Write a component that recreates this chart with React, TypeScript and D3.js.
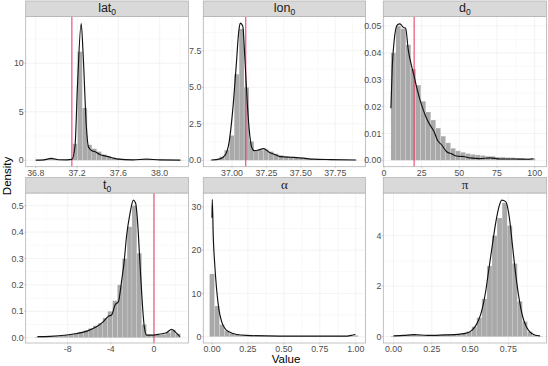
import React from "react";
import * as d3 from "d3";

// ---- data ----
// histogram bins: left edge of first bin, bin width, bar densities
const lat0BinStart = 36.786;
const lat0BinWidth = 0.0465;
const lat0Bins = [0.03, 0.05, 0.1, 0.2, 0.15, 0.05, 0.05, 0.1, 1.7, 11.2, 5.4, 1.6, 1.2, 0.9, 0.6, 0.45, 0.3, 0.2, 0.15, 0.1, 0.08, 0.06, 0.05, 0.05, 0.1, 0.12, 0.08, 0.05, 0.04, 0.03, 0.03];
const lat0Density: [number, number][] = [
  [36.8, 0.02], [36.88, 0.05], [36.95, 0.2], [37.02, 0.06], [37.1, 0.05], [37.15, 0.1], [37.18, 1.4], [37.205, 7.9],
  [37.24, 14.1], [37.26, 10.7], [37.29, 3.5], [37.31, 1.4], [37.34, 1.0], [37.37, 0.9], [37.42, 0.6], [37.49, 0.4],
  [37.58, 0.15], [37.74, 0.05], [37.87, 0.12], [38.0, 0.04], [38.2, 0.02],
];

const lon0BinStart = 36.837;
const lon0BinWidth = 0.0358;
const lon0Bins = [0.03, 0.08, 0.25, 0.7, 1.7, 5.9, 9.0, 5.0, 1.3, 0.7, 0.7, 0.75, 0.6, 0.45, 0.35, 0.25, 0.2, 0.18, 0.15, 0.12, 0.1, 0.08, 0.07, 0.06, 0.05, 0.05, 0.04, 0.04, 0.03, 0.03];
const lon0Density: [number, number][] = [
  [36.85, 0.02], [36.913, 0.1], [36.95, 0.35], [36.98, 1.3], [37.005, 3.4], [37.03, 6.4], [37.05, 8.9], [37.06, 9.4],
  [37.078, 9.2], [37.094, 6.9], [37.11, 4.1], [37.125, 2.1], [37.143, 0.9], [37.16, 0.66], [37.19, 0.7], [37.23, 0.8],
  [37.27, 0.55], [37.31, 0.4], [37.35, 0.25], [37.45, 0.2], [37.52, 0.15], [37.59, 0.08], [37.72, 0.05], [37.9, 0.02],
];

const d0BinStart = 4.6;
const d0BinWidth = 3.3;
const d0Bins = [0.04, 0.05, 0.049, 0.043, 0.034, 0.028, 0.022, 0.018, 0.015, 0.012, 0.009, 0.0065, 0.0045, 0.0035, 0.003, 0.0025, 0.0022, 0.002, 0.0018, 0.0015, 0.0015, 0.0012, 0.0012, 0.001, 0.001, 0.0008, 0.0008, 0.0007, 0.0008];
const d0Density: [number, number][] = [
  [4.6, 0.0194], [5.5, 0.0349], [6.8, 0.0448], [8.8, 0.0504], [10.6, 0.0508], [12.8, 0.0495], [14.4, 0.0491],
  [16.1, 0.0411], [18.4, 0.0349], [20.1, 0.0311], [22.1, 0.0262], [23.9, 0.0225], [26.1, 0.0187], [28.3, 0.0156],
  [30.5, 0.0132], [33.2, 0.0107], [35.4, 0.0076], [38.3, 0.0057], [41.6, 0.0032], [44.9, 0.0024], [48.2, 0.0016],
  [52.6, 0.0014], [57.1, 0.0009], [63.7, 0.0006], [70.3, 0.0009], [77, 0.0005], [85.8, 0.0005], [94.7, 0.0004], [99.1, 0.0006],
];

const t0BinStart = -11.04;
const t0BinWidth = 0.45;
const t0Bins = [0.003, 0.003, 0.004, 0.005, 0.006, 0.008, 0.01, 0.013, 0.017, 0.022, 0.028, 0.035, 0.045, 0.055, 0.075, 0.1, 0.14, 0.2, 0.3, 0.42, 0.5, 0.32, 0.05, 0.012, 0.01, 0.011, 0.013, 0.02, 0.03, 0.015];
const t0Density: [number, number][] = [
  [-10.8, 0.004], [-9.63, 0.005], [-8.09, 0.01], [-7.16, 0.016], [-6.2, 0.025], [-5.3, 0.042], [-4.69, 0.061],
  [-4.2, 0.082], [-3.92, 0.086], [-3.61, 0.124], [-3.3, 0.136], [-2.99, 0.218], [-2.78, 0.282], [-2.53, 0.389],
  [-2.22, 0.471], [-1.91, 0.521], [-1.7, 0.509], [-1.51, 0.433], [-1.3, 0.282], [-1.08, 0.13], [-0.9, 0.042],
  [-0.68, 0.01], [-0.06, 0.01], [0.56, 0.014], [1.17, 0.019], [1.64, 0.032], [1.94, 0.023], [2.41, 0.004],
];

const alphaBinStart = -0.0172;
const alphaBinWidth = 0.0345;
const alphaBins = [14.5, 7.1, 2.8, 1.4, 0.8, 0.5, 0.35, 0.25, 0.2, 0.15, 0.12, 0.1, 0.1, 0.1, 0.1, 0.1, 0.1, 0.1, 0.1, 0.1, 0.1, 0.1, 0.1, 0.1, 0.1, 0.1, 0.1, 0.12, 0.2, 0.3];
const alphaDensity: [number, number][] = [
  [0.0, 27.5], [0.002, 31.7], [0.009, 23], [0.0186, 16.9], [0.0325, 10.8], [0.0487, 6.2], [0.067, 3.5],
  [0.09, 1.9], [0.125, 1.0], [0.172, 0.5], [0.24, 0.3], [0.47, 0.15], [0.705, 0.15], [0.94, 0.15], [0.98, 0.38], [0.998, 0.5],
];

const piBinStart = -0.0165;
const piBinWidth = 0.033;
const piBins = [0.03, 0.04, 0.05, 0.06, 0.08, 0.06, 0.05, 0.05, 0.06, 0.06, 0.07, 0.08, 0.09, 0.1, 0.13, 0.2, 0.4, 0.75, 1.5, 2.8, 4.0, 4.7, 5.3, 4.4, 2.9, 1.4, 0.6, 0.2, 0.06, 0.02];
const piDensity: [number, number][] = [
  [0.0, 0.03], [0.067, 0.05], [0.133, 0.08], [0.222, 0.05], [0.333, 0.07], [0.422, 0.09], [0.467, 0.13],
  [0.5, 0.2], [0.533, 0.4], [0.556, 0.66], [0.578, 1.06], [0.6, 1.72], [0.622, 2.64], [0.644, 3.56], [0.667, 4.49],
  [0.689, 5.15], [0.707, 5.41], [0.733, 5.35], [0.756, 4.75], [0.778, 3.56], [0.8, 2.38], [0.822, 1.45], [0.844, 0.79],
  [0.867, 0.4], [0.889, 0.2], [0.922, 0.07], [0.956, 0.03],
];

// true parameter values (red lines)
const lat0True = 37.15;
const lon0True = 37.1;
const d0True = 20;
const t0True = 0;

// ---- layout ----
const colX = [[25.7, 188.5], [203.3, 365.5], [383.3, 546.6]];
const rowY = [
  { strip: 1, top: 16.5, bottom: 166.7 },
  { strip: 177.5, top: 193, bottom: 343 },
];

type Panel = {
  name: string; sub?: string; greek?: boolean;
  binStart: number; binWidth: number; bins: number[];
  density: [number, number][];
  truth?: number;
  xDomain: [number, number]; yDomain: [number, number];
  xTicks: number[]; yTicks: number[];
  xFmt: (v: number) => string; yFmt: (v: number) => string;
};

const f1 = d3.format(".1f");
const f2 = d3.format(".2f");
const fm = (v: number) => d3.format("d")(v).replace("\u2212", "-");

const panels: Panel[] = [
  { name: "lat", sub: "0", binStart: lat0BinStart, binWidth: lat0BinWidth, bins: lat0Bins, density: lat0Density, truth: lat0True,
    xDomain: [36.703, 38.279], yDomain: [-0.66, 14.82], xTicks: [36.8, 37.2, 37.6, 38.0], yTicks: [0, 5, 10], xFmt: f1, yFmt: fm },
  { name: "lon", sub: "0", binStart: lon0BinStart, binWidth: lon0BinWidth, bins: lon0Bins, density: lon0Density, truth: lon0True,
    xDomain: [36.7916, 37.9695], yDomain: [-0.438, 9.85], xTicks: [37.0, 37.25, 37.5, 37.75], yTicks: [0, 2.5, 5, 7.5], xFmt: f2, yFmt: f1 },
  { name: "d", sub: "0", binStart: d0BinStart, binWidth: d0BinWidth, bins: d0Bins, density: d0Density, truth: d0True,
    xDomain: [-0.46, 107.9], yDomain: [-0.00238, 0.05354], xTicks: [0, 25, 50, 75, 100], yTicks: [0, 0.01, 0.02, 0.03, 0.04, 0.05], xFmt: fm, yFmt: f2 },
  { name: "t", sub: "0", binStart: t0BinStart, binWidth: t0BinWidth, bins: t0Bins, density: t0Density, truth: t0True,
    xDomain: [-11.89, 3.2], yDomain: [-0.0201, 0.548], xTicks: [-8, -4, 0], yTicks: [0, 0.1, 0.2, 0.3, 0.4, 0.5], xFmt: fm, yFmt: f1 },
  { name: "\u03b1", greek: true, binStart: alphaBinStart, binWidth: alphaBinWidth, bins: alphaBins, density: alphaDensity,
    xDomain: [-0.0605, 1.068], yDomain: [-1.455, 33.19], xTicks: [0, 0.25, 0.5, 0.75, 1.0], yTicks: [0, 10, 20, 30], xFmt: f2, yFmt: fm },
  { name: "\u03c0", greek: true, binStart: piBinStart, binWidth: piBinWidth, bins: piBins, density: piDensity,
    xDomain: [-0.0667, 1.0], yDomain: [-0.25, 5.69], xTicks: [0, 0.25, 0.5, 0.75], yTicks: [0, 2, 4], xFmt: f2, yFmt: fm },
];

function minorBreaks(ticks: number[], domain: [number, number]) {
  const step = ticks[1] - ticks[0];
  const ext = [ticks[0] - step, ...ticks, ticks[ticks.length - 1] + step];
  const out: number[] = [];
  for (let i = 0; i < ext.length - 1; i++) {
    const m = (ext[i] + ext[i + 1]) / 2;
    if (m > domain[0] && m < domain[1]) out.push(m);
  }
  return out;
}

const SANS = "'Liberation Sans', Arial, Helvetica, sans-serif";

function FacetPanel({ p, idx }: { p: Panel; idx: number }) {
  const [x0, x1] = colX[idx % 3];
  const r = rowY[Math.floor(idx / 3)];
  const x = d3.scaleLinear().domain(p.xDomain).range([x0, x1]);
  const y = d3.scaleLinear().domain(p.yDomain).range([r.bottom, r.top]);
  const line = d3.line<[number, number]>().x((d) => x(d[0])).y((d) => y(d[1])).curve(d3.curveMonotoneX);
  const xMinor = minorBreaks(p.xTicks, p.xDomain);
  const yMinor = minorBreaks(p.yTicks, p.yDomain);
  const clipId = `clip${idx}`;
  return (
    <g>
      <defs>
        <clipPath id={clipId}>
          <rect x={x0} y={r.top} width={x1 - x0} height={r.bottom - r.top} />
        </clipPath>
      </defs>
      <rect x={x0} y={r.top} width={x1 - x0} height={r.bottom - r.top} fill="#fff" />
      {xMinor.map((v) => (
        <line key={"xm" + v} x1={x(v)} x2={x(v)} y1={r.top} y2={r.bottom} stroke="#f3f3f3" strokeWidth={0.5} />
      ))}
      {yMinor.map((v) => (
        <line key={"ym" + v} x1={x0} x2={x1} y1={y(v)} y2={y(v)} stroke="#f3f3f3" strokeWidth={0.5} />
      ))}
      {p.xTicks.map((v) => (
        <line key={"xg" + v} x1={x(v)} x2={x(v)} y1={r.top} y2={r.bottom} stroke="#ebebeb" strokeWidth={0.6} />
      ))}
      {p.yTicks.map((v) => (
        <line key={"yg" + v} x1={x0} x2={x1} y1={y(v)} y2={y(v)} stroke="#ebebeb" strokeWidth={0.6} />
      ))}
      <g clipPath={`url(#${clipId})`}>
        {p.bins.map((h, i) => {
          const a = p.binStart + i * p.binWidth;
          return (
            <rect key={i} x={x(a)} y={y(h)} width={x(a + p.binWidth) - x(a)} height={y(0) - y(h)}
              fill="#a9a9a9" stroke="#ffffff" strokeOpacity={0.45} strokeWidth={0.35} />
          );
        })}
        {p.truth !== undefined && (
          <line x1={x(p.truth)} x2={x(p.truth)} y1={r.top} y2={r.bottom} stroke="#e5456a" strokeWidth={1.1} />
        )}
        <path d={line(p.density) || ""} fill="none" stroke="#111" strokeWidth={1.15} strokeLinejoin="round" />
      </g>
      <rect x={x0} y={r.top} width={x1 - x0} height={r.bottom - r.top} fill="none" stroke="#b3b3b3" strokeWidth={0.8} />
      {/* strip */}
      <rect x={x0} y={r.strip} width={x1 - x0} height={r.top - r.strip} fill="#d9d9d9" stroke="#b3b3b3" strokeWidth={0.8} />
      <text x={(x0 + x1) / 2} y={r.strip + 11.3} textAnchor="middle" fontSize={p.greek ? 13 : 12.5}
        fontFamily={p.greek ? "'Liberation Serif', 'DejaVu Serif', serif" : SANS} fill="#1a1a1a">
        {p.name}
        {p.sub && <tspan fontSize={8.5} dy={3}>{p.sub}</tspan>}
      </text>
      {/* axes */}
      {p.xTicks.map((v) => (
        <g key={"xt" + v}>
          <line x1={x(v)} x2={x(v)} y1={r.bottom} y2={r.bottom + 1.6} stroke="#b3b3b3" strokeWidth={0.6} />
          <text x={x(v)} y={r.bottom + 8.9} textAnchor="middle" fontSize={8.8} fontFamily={SANS} fill="#4d4d4d">
            {p.xFmt(v)}
          </text>
        </g>
      ))}
      {p.yTicks.map((v) => (
        <g key={"yt" + v}>
          <line x1={x0 - 1.6} x2={x0} y1={y(v)} y2={y(v)} stroke="#b3b3b3" strokeWidth={0.6} />
          <text x={x0 - 2} y={y(v) + 3.1} textAnchor="end" fontSize={8.8} fontFamily={SANS} fill="#4d4d4d">
            {p.yFmt(v)}
          </text>
        </g>
      ))}
    </g>
  );
}

export default function App() {
  return (
    <svg width={548} height={366} style={{ position: "absolute", left: 0, top: 0, background: "#fff" }}>
      <rect width={548} height={366} fill="#fff" />
      {panels.map((p, i) => (
        <FacetPanel key={i} p={p} idx={i} />
      ))}
      <text x={286} y={362.5} textAnchor="middle" fontSize={11.5} fontFamily={SANS} fill="#000">Value</text>
      <text transform="translate(10.5,176) rotate(-90)" textAnchor="middle" fontSize={11.5} fontFamily={SANS} fill="#000">Density</text>
    </svg>
  );
}
